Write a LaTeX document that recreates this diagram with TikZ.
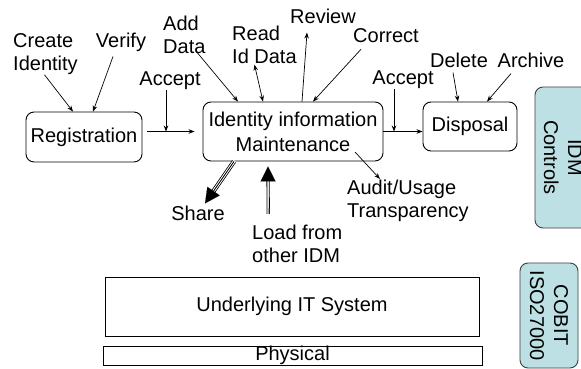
\documentclass[tikz,border=0pt]{standalone}
\usepackage{fontspec}
\setmainfont{Liberation Sans}
\usetikzlibrary{arrows.meta}
\definecolor{ctrlfill}{RGB}{188,224,228}
\begin{document}
\begin{tikzpicture}[x=1pt,y=-1pt,
  txt/.style={font=\fontsize{20}{23}\selectfont, inner sep=0pt, align=left},
  proc/.style={draw, line width=0.9pt, rounded corners=8pt, font=\fontsize{20}{25}\selectfont, align=center, inner sep=0pt},
  layer/.style={draw, line width=0.9pt, font=\fontsize{20}{24}\selectfont, inner sep=0pt},
  ctrl/.style={draw=black!75, fill=ctrlfill, line width=0.9pt, rounded corners=8pt, rotate=-90, align=center, font=\fontsize{20}{24}\selectfont, inner sep=0pt},
  arr/.style={-{Stealth[length=6pt,width=4.5pt]}, line width=0.7pt},
  biarr/.style={{Stealth[length=6pt,width=4.5pt]}-{Stealth[length=6pt,width=4.5pt]}, line width=0.7pt},
  bighead/.style={-{Triangle[length=15pt,width=15pt]}, line width=0.1pt},
]
\clip (0,0) rectangle (581,369);
% boxes
\node[proc, minimum width=116pt, minimum height=50pt] (reg) at (84,137) {Registration};
\node[proc, minimum width=180pt, minimum height=59pt] (ident) at (293,131.5) {Identity information\\Maintenance};
\node[proc, minimum width=94pt, minimum height=49pt] (disp) at (470,126.5) {Disposal};
\node[ctrl, minimum width=141pt, minimum height=56pt] (idm) at (563,157.5) {IDM\\Controls};
\node[ctrl, minimum width=105pt, minimum height=58pt] (cobit) at (549,315.5) {COBIT\\ISO27000};
\node[layer, minimum width=374pt, minimum height=59pt] (it) at (292,306.5) {Underlying IT System};
\node[layer, minimum width=379pt, minimum height=19pt] (phys) at (292.5,355.5) {Physical};
% labels
\node[txt, anchor=west] (create) at (13,54) {Create\\Identity};
\node[txt] (verify) at (121,42) {Verify};
\node[txt, anchor=west] (adddata) at (163,34.5) {Add\\Data};
\node[txt] (accL) at (170,81) {Accept};
\node[txt, anchor=west] (readid) at (232,44.5) {Read\\Id Data};
\node[txt] (review) at (323,16) {Review};
\node[txt] (correct) at (386,36) {Correct};
\node[txt] (accR) at (403,80) {Accept};
\node[txt] (delete) at (459,60) {Delete};
\node[txt] (archive) at (531,60) {Archive};
\node[txt] (share) at (198,213) {Share};
\node[txt, anchor=west] (load) at (252,244) {Load from\\other IDM};
\node[txt, anchor=west] (audit) at (347,201) {Audit/Usage\\Transparency};
% connectors
\draw[arr] ([xshift=-1pt]create.south) -- ([xshift=-11pt]reg.north);
\draw[arr] ([xshift=-8pt,yshift=-5pt]verify.south) -- ([xshift=9pt]reg.north);
\draw[arr] ([xshift=5pt]reg.east |- ident.west) -- ([xshift=-8pt]ident.west);
\draw[arr] ([xshift=-4pt]accL.south) -- ([xshift=-4pt]accL.south |- ident.west);
\draw[arr] ([xshift=12pt,yshift=2pt]adddata.south) -- ([xshift=-55pt]ident.north);
\draw[biarr] ([xshift=-10pt,yshift=-1pt]readid.south) -- ([xshift=-30pt]ident.north);
\draw[arr] ([xshift=9pt]ident.north) -- ([xshift=-16pt,yshift=-9pt]review.south);
\draw[arr] ([xshift=-25pt,yshift=-6pt]correct.south) -- ([xshift=20pt]ident.north);
\draw[arr] (ident.east) -- (ident.east -| disp.west);
\draw[arr] ([xshift=-9pt]accR.south) -- ([xshift=-9pt]accR.south |- ident.east);
\draw[arr] ([xshift=-6pt,yshift=-5pt]delete.south) -- ([xshift=-12pt]disp.north);
\draw[arr] ([xshift=-20pt,yshift=-6pt]archive.south) -- ([xshift=17pt]disp.north);
\draw[arr] ([xshift=62pt,yshift=-20.5pt]ident.center) -- ([xshift=33pt,yshift=1pt]audit.north west);
% share (triple line)
\draw[line width=4.4pt, shorten >=12pt] ([xshift=-59pt]ident.south) -- ([xshift=7pt,yshift=2pt]share.north);
\draw[line width=2.8pt, white, shorten >=11pt, shorten <=-1pt] ([xshift=-59pt]ident.south) -- ([xshift=7pt,yshift=2pt]share.north);
\draw[line width=0.8pt, shorten >=12pt] ([xshift=-59pt]ident.south) -- ([xshift=7pt,yshift=2pt]share.north);
\draw[bighead] ([xshift=-59pt]ident.south) -- ([xshift=7pt,yshift=2pt]share.north);
% load (double line)
\draw[double, line width=0.8pt, double distance=1.6pt, shorten >=13pt] ([xshift=-29pt,yshift=11pt]load.north) -- ([xshift=-25pt,yshift=-5pt]ident.south);
\draw[bighead] ([xshift=-29pt,yshift=11pt]load.north) -- ([xshift=-25pt,yshift=-5pt]ident.south);
\end{tikzpicture}
\end{document}
